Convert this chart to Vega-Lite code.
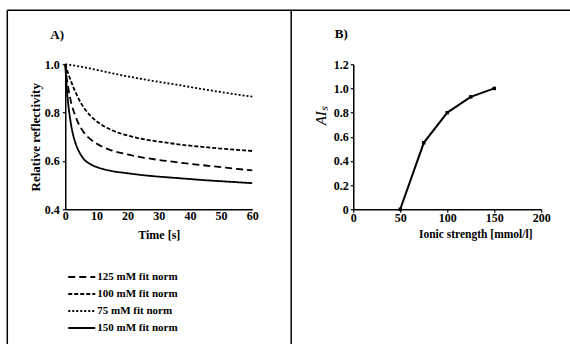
{
  "$schema": "https://vega.github.io/schema/vega-lite/v6.json",
  "padding": {"left": 6.25, "top": 9.25, "right": 0, "bottom": 0},
  "bounds": "flush",
  "spacing": 101,
  "config": {
    "view": {"stroke": null},
    "font": "Liberation Serif",
    "axis": {
      "grid": false,
      "domainColor": "#000",
      "domainWidth": 1.5,
      "tickColor": "#000",
      "tickWidth": 1.2,
      "labelColor": "#000",
      "labelFont": "Liberation Serif",
      "labelFontWeight": "bold",
      "labelFontSize": 12,
      "labelOverlap": false,
      "labelFlush": false,
      "titleColor": "#000",
      "titleFont": "Liberation Serif",
      "titleFontWeight": "bold",
      "titleFontSize": 12
    },
    "legend": {
      "labelFont": "Liberation Serif",
      "labelFontWeight": "bold",
      "labelFontSize": 11,
      "labelColor": "#000"
    }
  },
  "hconcat": [
    {
      "width": 187,
      "height": 145,
      "layer": [
        {
          "data": {"values": [{}]},
          "mark": {"type": "rule", "color": "#000", "strokeWidth": 1.5},
          "encoding": {
            "x": {"datum": -18.6, "type": "quantitative", "scale": {"domain": [0, 60], "nice": false},
              "axis": {"values": [0, 10, 20, 30, 40, 50, 60], "tickCount": 7, "title": "Time [s]", "tickSize": 0, "labelPadding": 1, "titlePadding": 8}},
            "x2": {"datum": 162},
            "y": {"datum": 1.2234, "type": "quantitative", "scale": {"domain": [0.4, 1.0], "nice": false, "zero": false},
              "axis": {"values": [0.4, 0.6, 0.8, 1.0], "tickCount": 4, "format": ".1f", "title": "Relative reflectivity", "titleFontSize": 13, "tickSize": 3, "labelPadding": 3, "titlePadding": 2}}
          }
        },
        {
          "data": {"values": [{}]},
          "mark": {"type": "rule", "color": "#000", "strokeWidth": 1.5},
          "encoding": {
            "x": {"datum": -18.6, "type": "quantitative", "scale": {"domain": [0, 60], "nice": false},
              "axis": {"values": [0, 10, 20, 30, 40, 50, 60], "tickCount": 7, "title": "Time [s]", "tickSize": 0, "labelPadding": 1, "titlePadding": 8}},
            "y": {"datum": 1.2234, "type": "quantitative", "scale": {"domain": [0.4, 1.0], "nice": false, "zero": false},
              "axis": {"values": [0.4, 0.6, 0.8, 1.0], "tickCount": 4, "format": ".1f", "title": "Relative reflectivity", "titleFontSize": 13, "tickSize": 3, "labelPadding": 3, "titlePadding": 2}},
            "y2": {"datum": -0.4}
          }
        },
        {
          "data": {"values": [{}]},
          "mark": {"type": "rule", "color": "#000", "strokeWidth": 1.5},
          "encoding": {
            "x": {"datum": 72.5, "type": "quantitative", "scale": {"domain": [0, 60], "nice": false},
              "axis": {"values": [0, 10, 20, 30, 40, 50, 60], "tickCount": 7, "title": "Time [s]", "tickSize": 0, "labelPadding": 1, "titlePadding": 8}},
            "y": {"datum": 1.2234, "type": "quantitative", "scale": {"domain": [0.4, 1.0], "nice": false, "zero": false},
              "axis": {"values": [0.4, 0.6, 0.8, 1.0], "tickCount": 4, "format": ".1f", "title": "Relative reflectivity", "titleFontSize": 13, "tickSize": 3, "labelPadding": 3, "titlePadding": 2}},
            "y2": {"datum": -0.4}
          }
        },
        {
          "data": {"values": [{"label": "A)"}]},
          "mark": {"type": "text", "font": "Liberation Serif", "fontWeight": "bold", "fontSize": 13, "color": "#000", "align": "center", "baseline": "middle"},
          "encoding": {
            "x": {"datum": -2.6, "type": "quantitative", "scale": {"domain": [0, 60], "nice": false},
              "axis": {"values": [0, 10, 20, 30, 40, 50, 60], "tickCount": 7, "title": "Time [s]", "tickSize": 0, "labelPadding": 1, "titlePadding": 8}},
            "y": {"datum": 1.12, "type": "quantitative", "scale": {"domain": [0.4, 1.0], "nice": false, "zero": false},
              "axis": {"values": [0.4, 0.6, 0.8, 1.0], "tickCount": 4, "format": ".1f", "title": "Relative reflectivity", "titleFontSize": 13, "tickSize": 3, "labelPadding": 3, "titlePadding": 2}},
            "text": {"field": "label"}
          }
        },
        {
          "data": {
            "values": [
              {"t": 0, "v": 1.0, "s": "150 mM fit norm"},
              {"t": 0.5, "v": 0.9, "s": "150 mM fit norm"},
              {"t": 1, "v": 0.83, "s": "150 mM fit norm"},
              {"t": 1.5, "v": 0.78, "s": "150 mM fit norm"},
              {"t": 2, "v": 0.74, "s": "150 mM fit norm"},
              {"t": 3, "v": 0.685, "s": "150 mM fit norm"},
              {"t": 4, "v": 0.65, "s": "150 mM fit norm"},
              {"t": 5, "v": 0.625, "s": "150 mM fit norm"},
              {"t": 6, "v": 0.607, "s": "150 mM fit norm"},
              {"t": 8, "v": 0.587, "s": "150 mM fit norm"},
              {"t": 10, "v": 0.575, "s": "150 mM fit norm"},
              {"t": 12, "v": 0.567, "s": "150 mM fit norm"},
              {"t": 15, "v": 0.558, "s": "150 mM fit norm"},
              {"t": 20, "v": 0.549, "s": "150 mM fit norm"},
              {"t": 25, "v": 0.541, "s": "150 mM fit norm"},
              {"t": 30, "v": 0.535, "s": "150 mM fit norm"},
              {"t": 35, "v": 0.53, "s": "150 mM fit norm"},
              {"t": 40, "v": 0.525, "s": "150 mM fit norm"},
              {"t": 45, "v": 0.52, "s": "150 mM fit norm"},
              {"t": 50, "v": 0.516, "s": "150 mM fit norm"},
              {"t": 55, "v": 0.512, "s": "150 mM fit norm"},
              {"t": 60, "v": 0.508, "s": "150 mM fit norm"},
              {"t": 0, "v": 1.0, "s": "125 mM fit norm"},
              {"t": 0.5, "v": 0.94, "s": "125 mM fit norm"},
              {"t": 1, "v": 0.9, "s": "125 mM fit norm"},
              {"t": 1.5, "v": 0.865, "s": "125 mM fit norm"},
              {"t": 2, "v": 0.835, "s": "125 mM fit norm"},
              {"t": 3, "v": 0.795, "s": "125 mM fit norm"},
              {"t": 4, "v": 0.762, "s": "125 mM fit norm"},
              {"t": 5, "v": 0.737, "s": "125 mM fit norm"},
              {"t": 6, "v": 0.717, "s": "125 mM fit norm"},
              {"t": 8, "v": 0.69, "s": "125 mM fit norm"},
              {"t": 10, "v": 0.672, "s": "125 mM fit norm"},
              {"t": 12, "v": 0.658, "s": "125 mM fit norm"},
              {"t": 15, "v": 0.643, "s": "125 mM fit norm"},
              {"t": 20, "v": 0.627, "s": "125 mM fit norm"},
              {"t": 25, "v": 0.614, "s": "125 mM fit norm"},
              {"t": 30, "v": 0.604, "s": "125 mM fit norm"},
              {"t": 35, "v": 0.596, "s": "125 mM fit norm"},
              {"t": 40, "v": 0.588, "s": "125 mM fit norm"},
              {"t": 45, "v": 0.581, "s": "125 mM fit norm"},
              {"t": 50, "v": 0.574, "s": "125 mM fit norm"},
              {"t": 55, "v": 0.567, "s": "125 mM fit norm"},
              {"t": 60, "v": 0.561, "s": "125 mM fit norm"},
              {"t": 0, "v": 1.0, "s": "100 mM fit norm"},
              {"t": 1, "v": 0.96, "s": "100 mM fit norm"},
              {"t": 2, "v": 0.925, "s": "100 mM fit norm"},
              {"t": 3, "v": 0.893, "s": "100 mM fit norm"},
              {"t": 4, "v": 0.865, "s": "100 mM fit norm"},
              {"t": 5, "v": 0.84, "s": "100 mM fit norm"},
              {"t": 6, "v": 0.82, "s": "100 mM fit norm"},
              {"t": 8, "v": 0.788, "s": "100 mM fit norm"},
              {"t": 10, "v": 0.765, "s": "100 mM fit norm"},
              {"t": 12, "v": 0.747, "s": "100 mM fit norm"},
              {"t": 15, "v": 0.727, "s": "100 mM fit norm"},
              {"t": 20, "v": 0.705, "s": "100 mM fit norm"},
              {"t": 25, "v": 0.69, "s": "100 mM fit norm"},
              {"t": 30, "v": 0.68, "s": "100 mM fit norm"},
              {"t": 35, "v": 0.671, "s": "100 mM fit norm"},
              {"t": 40, "v": 0.663, "s": "100 mM fit norm"},
              {"t": 45, "v": 0.657, "s": "100 mM fit norm"},
              {"t": 50, "v": 0.651, "s": "100 mM fit norm"},
              {"t": 55, "v": 0.646, "s": "100 mM fit norm"},
              {"t": 60, "v": 0.641, "s": "100 mM fit norm"},
              {"t": 0, "v": 1.0, "s": "75 mM fit norm"},
              {"t": 5, "v": 0.99, "s": "75 mM fit norm"},
              {"t": 10, "v": 0.977, "s": "75 mM fit norm"},
              {"t": 15, "v": 0.963, "s": "75 mM fit norm"},
              {"t": 20, "v": 0.95, "s": "75 mM fit norm"},
              {"t": 25, "v": 0.938, "s": "75 mM fit norm"},
              {"t": 30, "v": 0.927, "s": "75 mM fit norm"},
              {"t": 35, "v": 0.917, "s": "75 mM fit norm"},
              {"t": 40, "v": 0.906, "s": "75 mM fit norm"},
              {"t": 45, "v": 0.895, "s": "75 mM fit norm"},
              {"t": 50, "v": 0.885, "s": "75 mM fit norm"},
              {"t": 55, "v": 0.875, "s": "75 mM fit norm"},
              {"t": 60, "v": 0.866, "s": "75 mM fit norm"}
            ]
          },
          "mark": {"type": "line", "color": "#000", "strokeWidth": 1.8, "interpolate": "monotone", "strokeCap": "butt"},
          "encoding": {
            "x": {
              "field": "t", "type": "quantitative",
              "scale": {"domain": [0, 60], "nice": false},
              "axis": {"values": [0, 10, 20, 30, 40, 50, 60], "tickCount": 7, "title": "Time [s]", "tickSize": 0, "labelPadding": 1, "titlePadding": 8}
            },
            "y": {
              "field": "v", "type": "quantitative",
              "scale": {"domain": [0.4, 1.0], "nice": false, "zero": false},
              "axis": {"values": [0.4, 0.6, 0.8, 1.0], "tickCount": 4, "format": ".1f", "title": "Relative reflectivity", "titleFontSize": 13, "tickSize": 3, "labelPadding": 3, "titlePadding": 2}
            },
            "strokeDash": {
              "field": "s", "type": "nominal",
              "scale": {
                "domain": ["125 mM fit norm", "100 mM fit norm", "75 mM fit norm", "150 mM fit norm"],
                "range": [[7, 4], [4, 2], [2, 2], [1, 0]]
              },
              "legend": {
                "title": null,
                "orient": "none",
                "legendX": 2,
                "legendY": 206.3,
                "symbolType": "stroke",
                "symbolSize": 729,
                "symbolStrokeColor": "#000",
                "symbolStrokeWidth": 2,
                "clipHeight": 12.7,
                "labelOffset": 1,
                "rowPadding": 4,
                "padding": 0
              }
            }
          }
        }
      ]
    },
    {
      "width": 188,
      "height": 145,
      "data": {
        "values": [
          {"i": 50, "a": 0},
          {"i": 75, "a": 0.55},
          {"i": 100, "a": 0.8},
          {"i": 125, "a": 0.93},
          {"i": 150, "a": 1.0}
        ]
      },
      "layer": [
        {
          "mark": {"type": "line", "color": "#000", "strokeWidth": 2},
          "encoding": {
            "x": {
              "field": "i", "type": "quantitative",
              "scale": {"domain": [0, 200], "nice": false},
              "axis": {"values": [0, 50, 100, 150, 200], "tickCount": 5, "title": "Ionic strength [mmol/l]", "titleFontSize": 11.5, "titleX": 122, "tickSize": 3, "labelPadding": 0, "titlePadding": 5}
            },
            "y": {
              "field": "a", "type": "quantitative",
              "scale": {"domain": [0, 1.2], "nice": false},
              "axis": {
                "values": [0, 0.2, 0.4, 0.6, 0.8, 1.0, 1.2],
                "tickCount": 7,
                "labelExpr": "datum.value == 0 ? '0' : format(datum.value, '.1f')",
                "title": "AIₛ",
                "titleFontWeight": "normal",
                "titleFontStyle": "italic",
                "titleFontSize": 15,
                "titleY": 51,
                "tickSize": 3,
                "labelPadding": 2,
                "titlePadding": 5
              }
            }
          }
        },
        {
          "mark": {"type": "point", "shape": "square", "filled": true, "size": 12, "color": "#000", "opacity": 1},
          "encoding": {
            "x": {
              "field": "i", "type": "quantitative",
              "scale": {"domain": [0, 200], "nice": false},
              "axis": {"values": [0, 50, 100, 150, 200], "tickCount": 5, "title": "Ionic strength [mmol/l]", "titleFontSize": 11.5, "titleX": 122, "tickSize": 3, "labelPadding": 0, "titlePadding": 5}
            },
            "y": {
              "field": "a", "type": "quantitative",
              "scale": {"domain": [0, 1.2], "nice": false},
              "axis": {
                "values": [0, 0.2, 0.4, 0.6, 0.8, 1.0, 1.2],
                "tickCount": 7,
                "labelExpr": "datum.value == 0 ? '0' : format(datum.value, '.1f')",
                "title": "AIₛ",
                "titleFontWeight": "normal",
                "titleFontStyle": "italic",
                "titleFontSize": 15,
                "titleY": 51,
                "tickSize": 3,
                "labelPadding": 2,
                "titlePadding": 5
              }
            }
          }
        },
        {
          "data": {"values": [{"label": "B)"}]},
          "mark": {"type": "text", "font": "Liberation Serif", "fontWeight": "bold", "fontSize": 13, "color": "#000", "align": "center", "baseline": "middle"},
          "encoding": {
            "x": {"datum": -12.8, "type": "quantitative", "scale": {"domain": [0, 200], "nice": false},
              "axis": {"values": [0, 50, 100, 150, 200], "tickCount": 5, "title": "Ionic strength [mmol/l]", "titleFontSize": 11.5, "titleX": 122, "tickSize": 3, "labelPadding": 0, "titlePadding": 5}},
            "y": {"datum": 1.448, "type": "quantitative", "scale": {"domain": [0, 1.2], "nice": false},
              "axis": {
                "values": [0, 0.2, 0.4, 0.6, 0.8, 1.0, 1.2],
                "tickCount": 7,
                "labelExpr": "datum.value == 0 ? '0' : format(datum.value, '.1f')",
                "title": "AIₛ",
                "titleFontWeight": "normal",
                "titleFontStyle": "italic",
                "titleFontSize": 15,
                "titleY": 51,
                "tickSize": 3,
                "labelPadding": 2,
                "titlePadding": 5
              }},
            "text": {"field": "label"}
          }
        }
      ]
    }
  ]
}
